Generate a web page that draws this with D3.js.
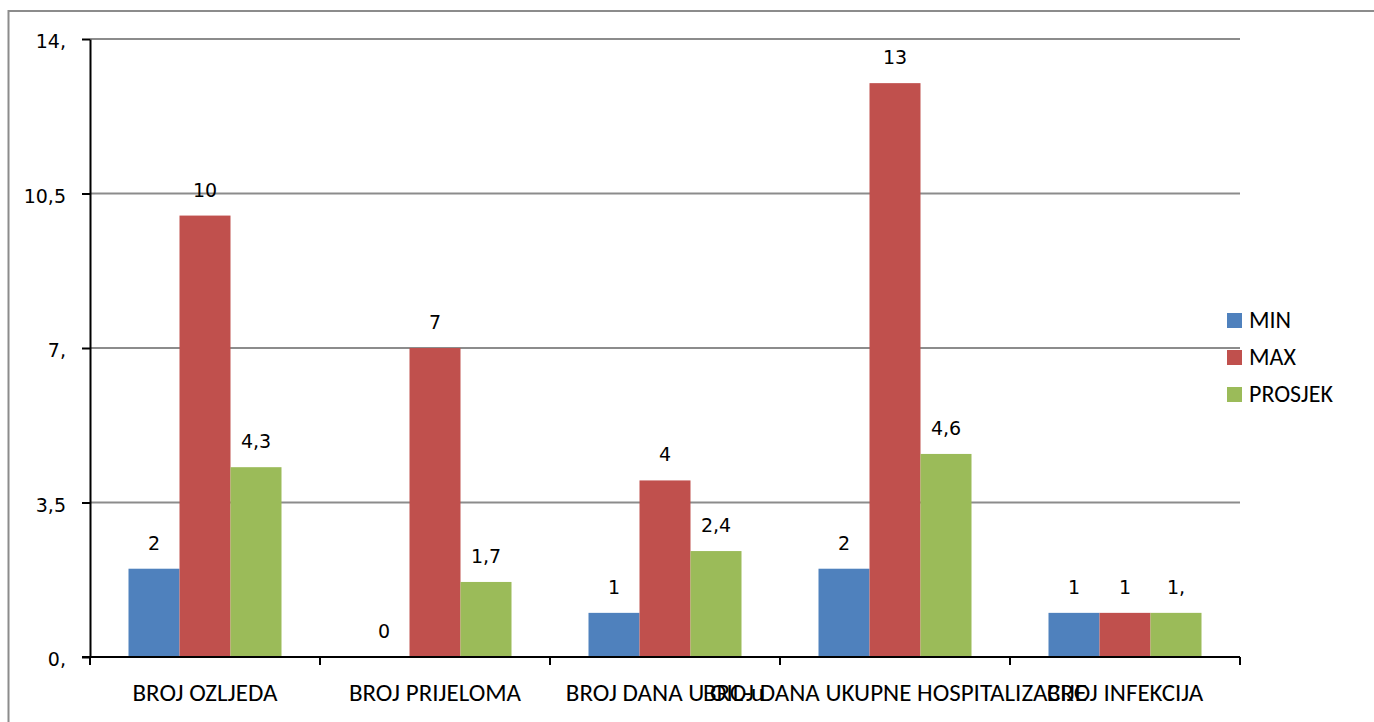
<!DOCTYPE html>
<html>
<head>
<meta charset="utf-8">
<script src="https://cdn.jsdelivr.net/npm/d3@7"></script>
<style>
  body { margin: 0; background: #fff; }
</style>
</head>
<body>
<div id="chart"></div>
<script>
const width = 1374
const height = 722

const categories = ["BROJ OZLJEDA", "BROJ PRIJELOMA", "BROJ DANA U OIL-u", "BROJ DANA UKUPNE HOSPITALIZACIJE", "BROJ INFEKCIJA"]
const seriesNames = ["MIN", "MAX", "PROSJEK"]
const minValues = [2, 0, 1, 2, 1]
const maxValues = [10, 7, 4, 13, 1]
const avgValues = [4.3, 1.7, 2.4, 4.6, 1]
const valueLabels = [
  ["2", "0", "1", "2", "1"],
  ["10", "7", "4", "13", "1"],
  ["4,3", "1,7", "2,4", "4,6", "1,"]
]
const yTicks = [0, 3.5, 7, 10.5, 14]
const yTickLabels = ["0,", "3,5", "7,", "10,5", "14,"]

const colors = ["#4f81bd", "#c0504d", "#9bbb59"]
const series = [minValues, maxValues, avgValues]

const margin = {left: 90, top: 39, right: 1240, bottom: 657}

const svg = d3.select("#chart")
              .append("svg")
              .attr("width", width)
              .attr("height", height)

// outer frame
svg.append("rect")
   .attr("x", 8.5)
   .attr("y", 11)
   .attr("width", width)
   .attr("height", height)
   .attr("fill", "none")
   .attr("stroke", "#8c8c8c")
   .attr("stroke-width", 2)

const x = d3.scaleBand()
            .domain(categories)
            .range([margin.left, margin.right])

const inner = d3.scaleBand()
                .domain(seriesNames)
                .range([0, 153])

const y = d3.scaleLinear()
            .domain([0, 14])
            .range([margin.bottom, margin.top])

// gridlines
svg.append("g")
   .selectAll("line")
   .data(yTicks.slice(1))
   .enter()
   .append("line")
   .attr("x1", margin.left)
   .attr("x2", margin.right)
   .attr("y1", d => y(d))
   .attr("y2", d => y(d))
   .attr("stroke", "#8c8c8c")
   .attr("stroke-width", 2)

// bars
const groupOffset = (x.bandwidth() - 153) / 2
series.forEach((vals, s) => {
  svg.append("g")
     .selectAll("rect")
     .data(vals)
     .enter()
     .append("rect")
     .attr("x", (d, i) => x(categories[i]) + groupOffset + inner(seriesNames[s]))
     .attr("y", d => y(d))
     .attr("width", inner.bandwidth())
     .attr("height", d => y(0) - y(d))
     .attr("fill", colors[s])

  svg.append("g")
     .selectAll("text")
     .data(vals)
     .enter()
     .append("text")
     .attr("x", (d, i) => x(categories[i]) + groupOffset + inner(seriesNames[s]) + inner.bandwidth() / 2)
     .attr("y", d => y(d) - 19)
     .attr("text-anchor", "middle")
     .style("font-family", "DejaVu Sans, Verdana, sans-serif")
     .style("font-size", "19px")
     .text((d, i) => valueLabels[s][i])
})

// y axis
const yAxis = d3.axisLeft(y)
                .tickValues(yTicks)
                .tickFormat((d, i) => yTickLabels[i])
                .tickSize(8)
                .tickSizeOuter(0)
                .tickPadding(16)

svg.append("g")
   .attr("transform", `translate(${margin.left},0)`)
   .call(yAxis)
   .call(g => g.selectAll("line, path").attr("stroke", "#000").attr("stroke-width", 2))
   .call(g => g.selectAll("text")
               .attr("dy", "0.45em")
               .style("font-family", "DejaVu Sans, Verdana, sans-serif")
               .style("font-size", "19px")
               .attr("fill", "#000"))

// x axis
svg.append("line")
   .attr("x1", margin.left - 8)
   .attr("x2", margin.right)
   .attr("y1", y(0))
   .attr("y2", y(0))
   .attr("stroke", "#000")
   .attr("stroke-width", 2)

const xTicks = categories.map(c => x(c)).concat([margin.right])
svg.append("g")
   .selectAll("line")
   .data(xTicks)
   .enter()
   .append("line")
   .attr("x1", d => d)
   .attr("x2", d => d)
   .attr("y1", y(0))
   .attr("y2", y(0) + 8)
   .attr("stroke", "#000")
   .attr("stroke-width", 2)

svg.append("g")
   .selectAll("text")
   .data(categories)
   .enter()
   .append("text")
   .attr("x", d => x(d) + x.bandwidth() / 2)
   .attr("y", 701)
   .attr("text-anchor", "middle")
   .style("font-family", "Carlito, Calibri, 'Open Sans', sans-serif")
   .style("font-size", "25px")
   .style("fill", "#000")
   .text(d => d)

// legend
const legend = svg.append("g")
                  .attr("transform", "translate(1227, 313)")

seriesNames.forEach((name, i) => {
  legend.append("rect")
        .attr("x", 0)
        .attr("y", i * 37)
        .attr("width", 15)
        .attr("height", 15)
        .attr("fill", colors[i])
  legend.append("text")
        .attr("x", 22)
        .attr("y", i * 37 + 15)
        .style("font-family", "Carlito, Calibri, 'Open Sans', sans-serif")
        .style("font-size", "24px")
        .text(name)
})
</script>
</body>
</html>
